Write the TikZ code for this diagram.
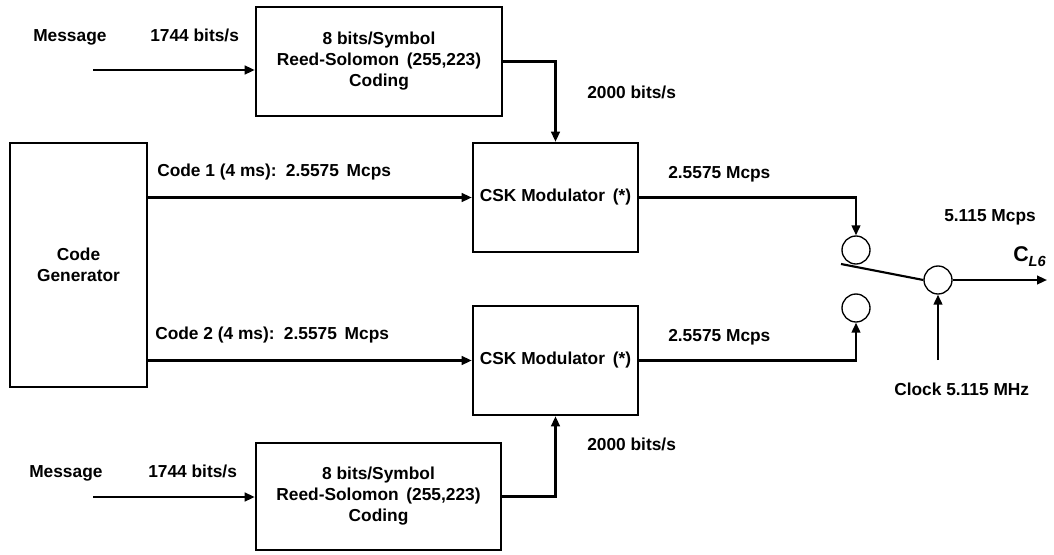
\documentclass[tikz,border=0pt]{standalone}
\usepackage{fontspec}
\setmainfont{Liberation Sans}
\usetikzlibrary{arrows.meta,calc}
\begin{document}
\begin{tikzpicture}[x=0.75pt,y=-0.75pt,
  every node/.style={font=\fontsize{13}{15.75}\selectfont\bfseries},
  blk/.style={draw,line width=1.9pt,inner sep=0pt,align=center},
  sw/.style={draw,line width=1pt,circle,minimum size=21pt,inner sep=0pt},
  lbl/.style={anchor=base west,inner sep=0pt},
  conn/.style={line width=1.6pt},
  arr/.style={line width=1.6pt,-{Triangle[length=7.5pt,width=6.5pt]}}]
\useasboundingbox (0,0) rectangle (1054,554);
% blocks
\node[blk,minimum width=184.5pt,minimum height=81.75pt] (rs1) at (379,61.5)
  {8 bits/Symbol\\Reed-Solomon\, (255,223)\\Coding};
\node[blk,minimum width=183.75pt,minimum height=80.25pt] (rs2) at (378.5,496.5)
  {8 bits/Symbol\\Reed-Solomon\, (255,223)\\Coding};
\node[blk,minimum width=123.75pt,minimum height=81.75pt] (csk1) at (555.5,197.5)
  {CSK Modulator\, (*)};
\node[blk,minimum width=123.75pt,minimum height=81.75pt] (csk2) at (555.5,360.5)
  {CSK Modulator\, (*)};
\node[blk,minimum width=102.75pt,minimum height=183pt] (cg) at (78.5,265)
  {Code\\Generator};
% switch circles
\node[sw] (c1) at (856,250) {};
\node[sw] (c2) at (856,308) {};
\node[sw] (c3) at (938,280) {};
% free ends
\coordinate (m1) at (93,70);
\coordinate (m2) at (93,497);
\coordinate (swl) at (841,264);
\coordinate (out) at (1047,280);
\coordinate (clk) at (938,360);
% connectors
\draw[arr] (m1) -- (m1 -| rs1.west);
\draw[arr] (m2) -- (m2 -| rs2.west);
\draw[arr] (rs1.east) -| (csk1.north);
\draw[arr] (rs2.east) -| (csk2.south);
\draw[arr] (cg.east |- csk1.west) -- (csk1.west);
\draw[arr] (cg.east |- csk2.west) -- (csk2.west);
\draw[arr] (csk1.east) -| (c1.north);
\draw[arr] (csk2.east) -| (c2.south);
\draw[conn] (swl) -- (c3.west);
\draw[arr] (c3.east) -- (out);
\draw[arr] (clk) -- (c3.south);
% labels
\node[lbl] (lm1) at (33,41) {Message};
\node[lbl] (lr1) at (150,41) {1744 bits/s};
\node[lbl] (lm2) at (29,477) {Message};
\node[lbl] (lr2) at (148,477) {1744 bits/s};
\node[lbl] (lb1) at (587,98) {2000 bits/s};
\node[lbl] (lb2) at (587,450) {2000 bits/s};
\node[lbl] (lc1) at (157,176) {Code 1 (4 ms):\, 2.5575\, Mcps};
\node[lbl] (lc2) at (155,339) {Code 2 (4 ms):\, 2.5575\, Mcps};
\node[lbl] (lo1) at (668,178) {2.5575 Mcps};
\node[lbl] (lo2) at (668,341) {2.5575 Mcps};
\node[lbl] (lo3) at (944,221) {5.115 Mcps};
\node[lbl,font=\fontsize{16}{18}\selectfont\bfseries] (lcl6) at (1013,261) {C\raisebox{-0.45ex}{\fontsize{11}{12}\selectfont\itshape L6}};
\node[lbl] (lclk) at (894,395) {Clock 5.115 MHz};
\end{tikzpicture}
\end{document}
